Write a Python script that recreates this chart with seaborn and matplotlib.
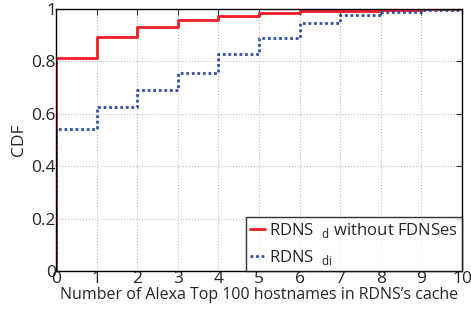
import numpy as np
import pandas as pd
import seaborn as sns
import matplotlib.pyplot as plt

# CDF values at each hostname count
counts = [0, 1, 2, 3, 4, 5, 6, 7, 8, 9, 10]
cdf_d = [0.811, 0.894, 0.932, 0.958, 0.974, 0.983, 0.991, 0.993, 0.996, 1.0, 1.0]
cdf_di = [0.542, 0.626, 0.690, 0.755, 0.827, 0.888, 0.947, 0.976, 0.990, 0.997, 1.0]
labels = [r"RDNS  $_{\mathrm{d}}$ without FDNSes", r"RDNS  $_{\mathrm{di}}$"]

sns.set_style("white")
plt.rcParams["font.family"] = ["Open Sans", "DejaVu Sans"]
plt.rcParams["mathtext.fontset"] = "custom"
plt.rcParams["mathtext.rm"] = "Open Sans"

# start each curve at (0, 0) so the jump at zero is drawn
df = pd.concat(
    [
        pd.DataFrame({"x": [0] + counts, "y": [0] + cdf_d, "s": labels[0]}),
        pd.DataFrame({"x": [0] + counts, "y": [0] + cdf_di, "s": labels[1]}),
    ]
)

fig, ax = plt.subplots(figsize=(4.71, 3.10), dpi=100)
fig.subplots_adjust(left=0.119, right=0.981, top=0.971, bottom=0.126)

sns.lineplot(
    data=df[df["s"] == labels[0]], x="x", y="y", ax=ax, color="#ee1c25",
    linewidth=2, drawstyle="steps-post", estimator=None, sort=False,
    label=labels[0],
)
sns.lineplot(
    data=df[df["s"] == labels[1]], x="x", y="y", ax=ax, color="#2f4fa8",
    linewidth=2, linestyle=(0, (1, 1)), drawstyle="steps-post",
    estimator=None, sort=False, label=labels[1],
)

ax.set_xlim(0, 10)
ax.set_ylim(0, 1)
ax.set_xticks(range(0, 11))
ax.set_yticks([0, 0.2, 0.4, 0.6, 0.8, 1])
ax.set_yticklabels(["0", "0.2", "0.4", "0.6", "0.8", "1"])
ax.grid(True, linestyle=":", color="#bbbbbb", linewidth=0.8)
ax.tick_params(direction="in", top=True, right=True, labelsize=12.5, pad=0,
               length=4, color="#333333")
for s in ax.spines.values():
    s.set_color("black")
    s.set_linewidth(1)
ax.set_xlabel("Number of Alexa Top 100 hostnames in RDNS’s cache", fontsize=11.5,
              labelpad=0)
ax.set_ylabel("CDF", fontsize=12.5, labelpad=3)

leg = ax.legend(loc="lower right", fontsize=12, handlelength=0.9,
                handletextpad=0.2, borderaxespad=0, fancybox=False,
                frameon=True, borderpad=0.25, labelspacing=0.45)
leg.get_frame().set_edgecolor("black")
leg.get_frame().set_linewidth(1)

fig.savefig("out.png", dpi=100)
